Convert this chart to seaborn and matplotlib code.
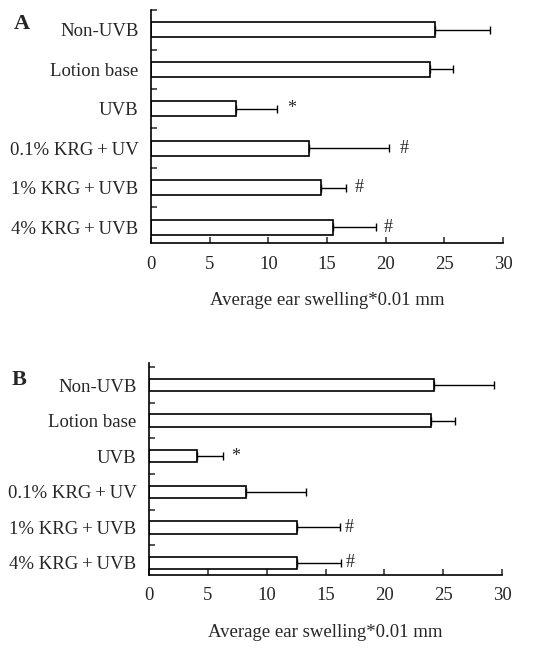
import numpy as np
import pandas as pd
import matplotlib
matplotlib.use("Agg")
import matplotlib.pyplot as plt
import seaborn as sns

# groups (top to bottom)
groups = ["Non-UVB", "Lotion base", "UVB", "0.1% KRG\u2009+\u2009UV",
          "1% KRG\u2009+\u2009UVB", "4% KRG\u2009+\u2009UVB"]

# panel A: mean and upper error
mean_a = [24.2, 23.8, 7.2, 13.5, 14.5, 15.5]
err_a = [4.7, 1.9, 3.5, 6.8, 2.1, 3.7]
marks_a = ["", "", "*", "#", "#", "#"]
mark_x_a = [0, 0, 12.0, 21.6, 17.7, 20.2]

# panel B
mean_b = [24.2, 24.0, 4.1, 8.2, 12.6, 12.6]
err_b = [5.1, 2.0, 2.2, 5.1, 3.6, 3.7]
marks_b = ["", "", "*", "", "#", "#"]
mark_x_b = [0, 0, 7.4, 0, 17.0, 17.1]

sns.set_style("ticks")
plt.rcParams["font.family"] = ["Liberation Serif", "DejaVu Serif"]

fig = plt.figure(figsize=(5.52, 6.54), dpi=100)
ax_a = fig.add_axes([0.2736, 0.6284, 0.6377, 0.3563])
ax_b = fig.add_axes([0.2700, 0.1208, 0.6395, 0.3242])


def draw_panel(ax, means, errs, marks, mark_x, width, ylim, letter, ly):
    df = pd.DataFrame({"group": groups, "mean": means})
    sns.barplot(data=df, x="mean", y="group", orient="h", color="white",
                edgecolor="black", linewidth=1.2, width=width, ax=ax)
    pos = np.arange(len(groups))
    ax.errorbar(means, pos, xerr=[np.zeros(len(errs)), errs], fmt="none",
                ecolor="black", elinewidth=1.0, capsize=3, capthick=1.0)
    for p, m, mx in zip(pos, marks, mark_x):
        if m:
            ax.text(mx, p, m, ha="center", va="center", fontsize=13)
    ax.set_xlim(0, 30)
    ax.set_ylim(*ylim)
    ax.set_xticks(range(0, 31, 5))
    ax.set_yticks(pos)
    ax.set_yticks(np.arange(-0.5, len(groups) - 0.5, 1), minor=True)
    ax.tick_params(axis="x", direction="in", length=4, width=1.1, pad=9, labelsize=13.5)
    ax.tick_params(axis="y", which="major", length=0, pad=9, labelsize=13.5)
    ax.tick_params(axis="y", which="minor", direction="in", length=4, width=1.1)
    ax.set_xlabel("Average ear swelling*0.01 mm", fontsize=13.5, labelpad=14)
    ax.set_ylabel("")
    sns.despine(ax=ax)
    for s in ["left", "bottom"]:
        ax.spines[s].set_linewidth(1.2)
        ax.spines[s].set_color("black")
    ax.text(-0.39, ly, letter, transform=ax.transAxes, fontsize=16,
            fontweight="bold", va="top", ha="left")


draw_panel(ax_a, mean_a, err_a, marks_a, mark_x_a, 0.38, (5.4, -0.5), "A", 0.985)
draw_panel(ax_b, mean_b, err_b, marks_b, mark_x_b, 0.35, (5.34, -0.62), "B", 0.965)

fig.savefig("out.png", dpi=100)
